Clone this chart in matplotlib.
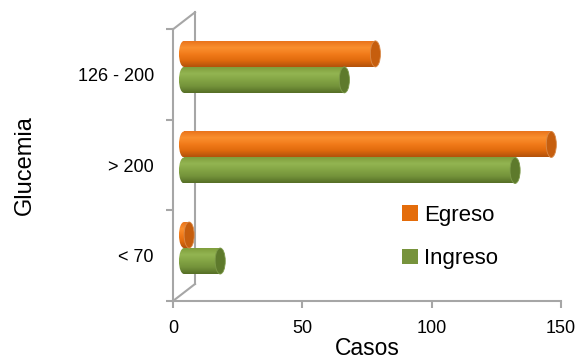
import numpy as np
import matplotlib
matplotlib.use('Agg')
from matplotlib import pyplot as plt
from matplotlib import transforms
from matplotlib.colors import LinearSegmentedColormap
from matplotlib.patches import Ellipse, Patch

categories = ['< 70', '> 200', '126 - 200']
egreso = [2, 142, 74]
ingreso = [14, 128, 62]
x_ticks = [0, 50, 100, 150]

plt.rcParams['font.family'] = ['Liberation Sans', 'DejaVu Sans']

fig = plt.figure(figsize=(5.77, 3.63), dpi=100)
W, H = 577, 363
ax = fig.add_axes([173 / W, 62 / H, 388 / W, 271.7 / H])
ax.set_xlim(0, 150)
ax.set_ylim(-0.5, 2.5)

grey = '#a6a6a6'
px = 1 / 100  # one pixel in inches


def shifted(dx, dy):
    return ax.transData + transforms.ScaledTranslation(dx * px, dy * px, fig.dpi_scale_trans)


# back wall and floor edge of the 3d frame
back = shifted(22, 17)
ax.plot([0, 0], [-0.5, 2.5], color=grey, lw=1.5, transform=back, zorder=1, clip_on=False)
for yv in (-0.5, 2.5):
    x0, y0 = ax.transData.transform((0, yv))
    x1, y1 = back.transform((0, yv))
    fig.add_artist(plt.Line2D([x0 / W, x1 / W], [y0 / H, y1 / H], color=grey, lw=1.5,
                              transform=fig.transFigure, zorder=1))

orange_cmap = LinearSegmentedColormap.from_list(
    'o', ['#e9741c', '#fa902f', '#f27b1a', '#e06a0d', '#b3520b'])
green_cmap = LinearSegmentedColormap.from_list(
    'g', ['#7f9e3c', '#93b552', '#83a444', '#73923a', '#566f26'])

bar_h = 0.287
cap_w = 3.9
grad = np.linspace(0, 1, 64).reshape(-1, 1)
tbar = shifted(11, 7.7)


def cylinder(y, value, cmap, cap_color, rim):
    y0, y1 = y - bar_h / 2, y + bar_h / 2
    left = Ellipse((0, y), cap_w, bar_h, transform=tbar, facecolor='none', edgecolor='none')
    ax.add_patch(left)
    im = ax.imshow(grad, cmap=cmap, extent=[-cap_w / 2, cap_w / 2, y0, y1], aspect='auto',
                   interpolation='bilinear', transform=tbar, zorder=3)
    im.set_clip_path(left)
    ax.imshow(grad, cmap=cmap, extent=[0, value, y0, y1], aspect='auto',
              interpolation='bilinear', transform=tbar, zorder=3)
    ax.add_patch(Ellipse((value, y), cap_w, bar_h, transform=tbar, facecolor=cap_color,
                         edgecolor=rim, lw=0.6, zorder=4))


for i in range(len(categories)):
    cylinder(i + bar_h / 2, egreso[i], orange_cmap, '#c65e0e', '#d98a4a')
    cylinder(i - bar_h / 2, ingreso[i], green_cmap, '#5e7a2c', '#7d9a4a')

ax.set_xlim(0, 150)
ax.set_ylim(-0.5, 2.5)

for side in ('top', 'right'):
    ax.spines[side].set_visible(False)
for side in ('left', 'bottom'):
    ax.spines[side].set_color(grey)
    ax.spines[side].set_linewidth(1.5)
    ax.spines[side].set_zorder(1)

ax.set_xticks(x_ticks)
ax.set_yticks([-0.5, 0.5, 1.5, 2.5])
ax.set_yticklabels([])
ax.set_yticks(range(len(categories)), categories, minor=True)
ax.tick_params(axis='y', which='major', length=5, width=1.5, color=grey)
ax.tick_params(axis='y', which='minor', length=0, pad=13.7, labelsize=13)
ax.tick_params(axis='x', length=5, width=1.5, color=grey, pad=9, labelsize=13)

ax.set_xlabel('Casos', fontsize=16.5, labelpad=0)
ax.set_ylabel('Glucemia', fontsize=17, labelpad=30)

handles = [Patch(facecolor='#e46c0a'), Patch(facecolor='#77933c')]
ax.legend(handles, ['Egreso', 'Ingreso'], loc='center left', bbox_to_anchor=(382 / W, 1 - 237 / H),
          bbox_transform=fig.transFigure, frameon=False, fontsize=16,
          handlelength=0.7, handleheight=0.7, handletextpad=0.3, labelspacing=1.0)

fig.savefig('out.png', dpi=100)
